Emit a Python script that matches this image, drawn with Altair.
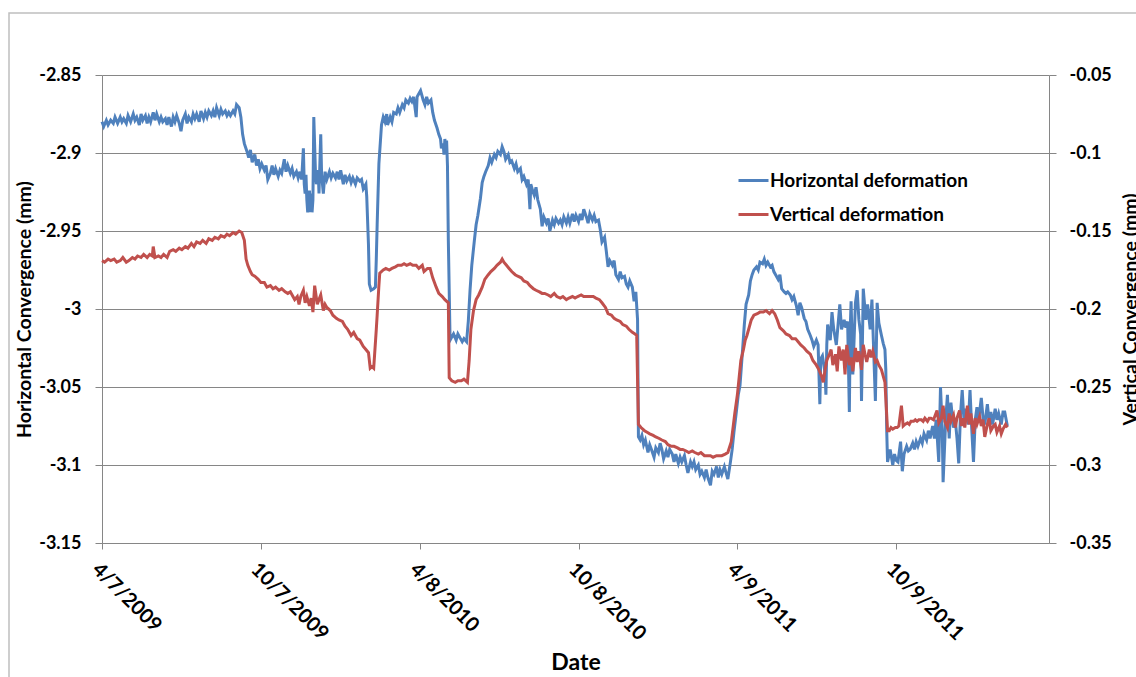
import altair as alt
import pandas as pd

# Time axis: day offsets are counted from START
START = "2009-04-07"
END = "2012-04-02"
TICK_DATES = ["2009-04-07", "2009-10-07", "2010-04-08", "2010-10-08", "2011-04-09", "2011-10-09"]
LEFT_TICKS = [-3.15, -3.1, -3.05, -3.0, -2.95, -2.9, -2.85]
RIGHT_TICKS = [-0.35, -0.3, -0.25, -0.2, -0.15, -0.1, -0.05]
SERIES = ["Horizontal deformation", "Vertical deformation"]
COLORS = ["#4F81BD", "#C0504D"]

# Horizontal deformation (left axis, mm)
H_DAY = [
    0, 2, 5, 7, 10, 13, 15, 18, 21, 23,
    25, 28, 30, 33, 36, 38, 40, 43, 45, 47,
    50, 52, 54, 56, 59, 61, 63, 66, 68, 70,
    73, 75, 77, 80, 82, 84, 86, 89, 91, 93,
    96, 98, 100, 103, 105, 107, 109, 112, 114, 117,
    119, 121, 123, 126, 128, 130, 132, 135, 137, 139,
    142, 144, 146, 148, 151, 153, 155, 158, 160, 162,
    164, 167, 169, 171, 173, 176, 178, 180, 182, 184,
    187, 189, 191, 194, 196, 198, 200, 203, 205, 207,
    210, 212, 214, 217, 219, 221, 224, 226, 228, 230,
    232, 233, 234, 235, 236, 237, 239, 240, 241, 242,
    243, 244, 246, 247, 249, 250, 252, 253, 255, 257,
    259, 262, 264, 266, 269, 271, 273, 275, 278, 280,
    282, 285, 287, 289, 292, 294, 297, 299, 301, 304,
    305, 307, 308, 310, 313, 315, 316, 317, 319, 322,
    324, 326, 328, 329, 332, 334, 336, 339, 341, 343,
    346, 348, 350, 353, 355, 357, 359, 362, 363, 365,
    367, 370, 372, 374, 376, 379, 381, 383, 386, 388,
    390, 391, 393, 394, 395, 396, 397, 398, 399, 401,
    403, 405, 408, 410, 413, 415, 417, 420, 422, 424,
    426, 429, 431, 433, 436, 438, 440, 442, 445, 447,
    449, 452, 454, 456, 459, 461, 463, 465, 468, 470,
    472, 475, 477, 479, 482, 484, 486, 489, 491, 493,
    494, 496, 498, 500, 502, 505, 507, 509, 512, 514,
    516, 519, 521, 523, 526, 528, 530, 532, 535, 537,
    539, 542, 544, 546, 549, 551, 553, 555, 558, 560,
    562, 565, 567, 569, 572, 574, 576, 579, 581, 583,
    585, 588, 590, 592, 595, 597, 599, 602, 604, 606,
    608, 611, 613, 615, 617, 618, 620, 622, 624, 626,
    629, 631, 633, 636, 638, 641, 643, 645, 647, 650,
    652, 654, 657, 659, 661, 664, 666, 668, 671, 673,
    675, 678, 680, 682, 684, 687, 689, 691, 694, 696,
    698, 701, 703, 705, 708, 710, 712, 714, 717, 719,
    721, 724, 726, 728, 731, 733, 735, 738, 740, 742,
    745, 747, 749, 751, 754, 756, 758, 761, 763, 765,
    767, 770, 772, 774, 777, 779, 781, 783, 786, 788,
    790, 793, 795, 797, 800, 802, 804, 806, 809, 811,
    813, 816, 818, 820, 823, 825, 827, 828, 830, 833,
    834, 835, 836, 839, 841, 843, 846, 848, 850, 852,
    855, 857, 859, 861, 862, 863, 865, 868, 870, 872,
    874, 875, 877, 880, 882, 885, 887, 888, 891, 893,
    895, 898, 900, 902, 903, 904, 905, 908, 911, 913,
    915, 917, 920, 922, 924, 927, 929, 931, 934, 936,
    938, 940, 943, 945, 947, 950, 952, 954, 957, 959,
    961, 964, 966, 968, 969, 972, 974, 976, 978, 981,
    983, 985, 987, 989, 991, 993, 995, 998, 1000, 1002,
    1004, 1006, 1008, 1010, 1013, 1015, 1017, 1020, 1022, 1024,
    1026, 1029, 1031, 1033, 1036, 1038, 1040, 1043,
]
H_MM = [
    -2.880, -2.883, -2.879, -2.882, -2.879, -2.881, -2.877, -2.881, -2.877, -2.880,
    -2.878, -2.881, -2.876, -2.880, -2.875, -2.879, -2.877, -2.882, -2.875, -2.879,
    -2.876, -2.881, -2.877, -2.880, -2.874, -2.879, -2.875, -2.880, -2.877, -2.880,
    -2.878, -2.882, -2.877, -2.883, -2.877, -2.880, -2.876, -2.881, -2.886, -2.879,
    -2.875, -2.881, -2.877, -2.880, -2.875, -2.878, -2.875, -2.880, -2.873, -2.878,
    -2.874, -2.877, -2.873, -2.876, -2.873, -2.877, -2.871, -2.876, -2.872, -2.875,
    -2.873, -2.876, -2.874, -2.876, -2.873, -2.875, -2.869, -2.871, -2.877, -2.888,
    -2.894, -2.899, -2.903, -2.898, -2.906, -2.901, -2.908, -2.904, -2.910, -2.907,
    -2.911, -2.908, -2.917, -2.913, -2.908, -2.914, -2.910, -2.915, -2.911, -2.913,
    -2.904, -2.912, -2.908, -2.913, -2.910, -2.915, -2.912, -2.916, -2.912, -2.917,
    -2.897, -2.920, -2.926, -2.914, -2.930, -2.938, -2.924, -2.938, -2.926, -2.938,
    -2.930, -2.877, -2.914, -2.920, -2.911, -2.926, -2.888, -2.914, -2.926, -2.912,
    -2.917, -2.912, -2.916, -2.913, -2.916, -2.912, -2.917, -2.911, -2.920, -2.914,
    -2.918, -2.915, -2.919, -2.916, -2.920, -2.916, -2.918, -2.917, -2.923, -2.920,
    -2.928, -2.959, -2.984, -2.988, -2.987, -2.986, -2.968, -2.946, -2.907, -2.882,
    -2.877, -2.880, -2.875, -2.882, -2.877, -2.880, -2.874, -2.875, -2.871, -2.874,
    -2.869, -2.871, -2.866, -2.868, -2.865, -2.867, -2.864, -2.877, -2.864, -2.862,
    -2.860, -2.866, -2.869, -2.864, -2.868, -2.866, -2.874, -2.879, -2.884, -2.888,
    -2.891, -2.897, -2.894, -2.901, -2.891, -2.899, -2.892, -2.908, -2.956, -3.020,
    -3.018, -3.016, -3.020, -3.016, -3.019, -3.021, -3.019, -3.021, -3.008, -2.988,
    -2.972, -2.956, -2.946, -2.940, -2.929, -2.919, -2.915, -2.912, -2.908, -2.903,
    -2.906, -2.901, -2.903, -2.899, -2.901, -2.896, -2.899, -2.904, -2.901, -2.906,
    -2.905, -2.910, -2.907, -2.912, -2.910, -2.917, -2.915, -2.920, -2.917, -2.936,
    -2.920, -2.924, -2.927, -2.922, -2.930, -2.936, -2.947, -2.941, -2.945, -2.942,
    -2.950, -2.943, -2.946, -2.942, -2.945, -2.943, -2.946, -2.941, -2.945, -2.941,
    -2.945, -2.939, -2.944, -2.940, -2.944, -2.939, -2.943, -2.936, -2.941, -2.945,
    -2.939, -2.943, -2.940, -2.944, -2.943, -2.949, -2.957, -2.954, -2.963, -2.973,
    -2.969, -2.972, -2.969, -2.978, -2.981, -2.976, -2.980, -2.979, -2.984, -2.986,
    -2.982, -2.986, -2.995, -2.989, -3.007, -3.082, -3.084, -3.081, -3.087, -3.084,
    -3.092, -3.087, -3.090, -3.095, -3.089, -3.092, -3.086, -3.090, -3.096, -3.091,
    -3.095, -3.090, -3.093, -3.098, -3.093, -3.099, -3.095, -3.098, -3.094, -3.100,
    -3.105, -3.098, -3.101, -3.098, -3.103, -3.100, -3.106, -3.104, -3.108, -3.103,
    -3.108, -3.113, -3.104, -3.106, -3.101, -3.108, -3.103, -3.106, -3.101, -3.105,
    -3.109, -3.098, -3.090, -3.079, -3.065, -3.055, -3.049, -3.026, -3.010, -2.997,
    -2.991, -2.982, -2.978, -2.975, -2.973, -2.975, -2.970, -2.971, -2.968, -2.972,
    -2.970, -2.973, -2.972, -2.976, -2.979, -2.981, -2.978, -2.987, -2.989, -2.990,
    -2.989, -2.991, -2.994, -2.992, -2.998, -3.004, -2.996, -2.999, -3.006, -3.008,
    -3.013, -3.017, -3.020, -3.024, -3.020, -3.023, -3.061, -3.032, -3.030, -3.041,
    -3.055, -3.023, -3.010, -3.020, -3.002, -3.013, -3.023, -3.010, -2.997, -3.013,
    -3.007, -3.012, -3.008, -3.066, -3.013, -2.995, -3.042, -2.996, -2.988, -3.007,
    -3.016, -3.059, -2.987, -3.007, -2.997, -3.013, -2.994, -3.010, -3.059, -2.996,
    -3.009, -3.017, -3.022, -3.026, -3.039, -3.077, -3.098, -3.090, -3.100, -3.093,
    -3.097, -3.098, -3.085, -3.104, -3.093, -3.088, -3.091, -3.090, -3.086, -3.090,
    -3.085, -3.088, -3.083, -3.086, -3.080, -3.084, -3.078, -3.083, -3.075, -3.083,
    -3.071, -3.098, -3.050, -3.077, -3.111, -3.071, -3.055, -3.083, -3.060, -3.076,
    -3.071, -3.083, -3.099, -3.068, -3.052, -3.071, -3.064, -3.074, -3.052, -3.077,
    -3.098, -3.071, -3.063, -3.071, -3.057, -3.070, -3.074, -3.061, -3.072, -3.066,
    -3.074, -3.064, -3.071, -3.067, -3.074, -3.066, -3.066, -3.075,
]

# Vertical deformation (right axis, mm)
V_DAY = [
    0, 3, 7, 10, 14, 17, 21, 24, 28, 31,
    35, 38, 41, 45, 48, 52, 55, 58, 59, 61,
    65, 68, 71, 75, 78, 82, 85, 89, 92, 96,
    99, 103, 106, 109, 113, 116, 120, 123, 127, 130,
    134, 137, 141, 144, 147, 151, 154, 158, 161, 164,
    166, 168, 171, 173, 176, 180, 183, 187, 190, 194,
    197, 200, 204, 207, 211, 214, 217, 220, 222, 225,
    227, 229, 232, 234, 236, 239, 241, 243, 245, 248,
    250, 252, 255, 257, 259, 263, 266, 270, 273, 277,
    280, 283, 287, 290, 294, 297, 301, 304, 307, 309,
    311, 313, 316, 317, 319, 320, 324, 327, 331, 334,
    338, 341, 345, 348, 351, 355, 358, 362, 365, 369,
    371, 375, 378, 381, 385, 388, 392, 395, 399, 400,
    403, 407, 410, 414, 417, 421, 423, 425, 428, 431,
    434, 438, 441, 445, 448, 452, 455, 459, 461, 463,
    466, 469, 472, 476, 479, 483, 486, 490, 493, 497,
    500, 504, 507, 510, 514, 517, 521, 524, 528, 531,
    535, 538, 542, 545, 548, 552, 555, 559, 562, 566,
    569, 573, 576, 580, 583, 587, 590, 593, 597, 600,
    604, 607, 611, 614, 616, 618, 621, 625, 628, 631,
    635, 638, 642, 645, 649, 652, 656, 659, 663, 666,
    669, 673, 676, 680, 683, 687, 690, 694, 697, 701,
    704, 708, 711, 714, 718, 721, 725, 727, 729, 732,
    734, 736, 739, 741, 743, 746, 748, 751, 755, 758,
    762, 765, 769, 772, 775, 778, 781, 785, 788, 792,
    795, 799, 802, 805, 809, 812, 816, 819, 823, 826,
    829, 831, 833, 835, 838, 840, 842, 845, 847, 849,
    852, 854, 856, 858, 861, 863, 865, 868, 870, 872,
    875, 877, 879, 881, 884, 886, 888, 891, 893, 895,
    898, 900, 902, 905, 907, 909, 911, 914, 916, 918,
    921, 923, 925, 928, 930, 932, 935, 937, 939, 941,
    944, 946, 948, 951, 953, 955, 958, 960, 962, 964,
    967, 969, 971, 974, 976, 978, 981, 983, 985, 988,
    990, 992, 994, 997, 999, 1001, 1004, 1006, 1008, 1011,
    1013, 1015, 1017, 1020, 1022, 1024, 1027, 1029, 1031, 1034,
    1036, 1038, 1041, 1043,
]
V_MM = [
    -0.169, -0.170, -0.168, -0.169, -0.168, -0.170, -0.169, -0.167, -0.170, -0.169,
    -0.167, -0.168, -0.166, -0.167, -0.165, -0.167, -0.165, -0.166, -0.160, -0.167,
    -0.166, -0.167, -0.165, -0.167, -0.163, -0.162, -0.163, -0.161, -0.162, -0.160,
    -0.161, -0.158, -0.160, -0.157, -0.158, -0.156, -0.158, -0.155, -0.156, -0.154,
    -0.155, -0.153, -0.154, -0.152, -0.153, -0.151, -0.152, -0.150, -0.151, -0.156,
    -0.168, -0.172, -0.176, -0.178, -0.179, -0.181, -0.183, -0.183, -0.186, -0.185,
    -0.187, -0.186, -0.188, -0.187, -0.189, -0.190, -0.189, -0.192, -0.194, -0.192,
    -0.197, -0.192, -0.188, -0.196, -0.192, -0.198, -0.193, -0.202, -0.185, -0.197,
    -0.194, -0.191, -0.201, -0.197, -0.199, -0.201, -0.204, -0.206, -0.207, -0.208,
    -0.211, -0.213, -0.217, -0.215, -0.219, -0.220, -0.224, -0.226, -0.228, -0.238,
    -0.237, -0.238, -0.213, -0.204, -0.185, -0.177, -0.175, -0.174, -0.175, -0.174,
    -0.173, -0.172, -0.172, -0.171, -0.172, -0.171, -0.172, -0.172, -0.174, -0.172,
    -0.176, -0.174, -0.174, -0.180, -0.186, -0.190, -0.192, -0.194, -0.196, -0.244,
    -0.246, -0.247, -0.246, -0.246, -0.245, -0.247, -0.233, -0.213, -0.201, -0.194,
    -0.191, -0.186, -0.181, -0.178, -0.176, -0.174, -0.172, -0.170, -0.168, -0.170,
    -0.172, -0.174, -0.176, -0.178, -0.179, -0.180, -0.182, -0.183, -0.185, -0.187,
    -0.188, -0.189, -0.190, -0.190, -0.191, -0.192, -0.190, -0.192, -0.193, -0.192,
    -0.194, -0.193, -0.192, -0.193, -0.192, -0.191, -0.192, -0.192, -0.192, -0.192,
    -0.193, -0.194, -0.196, -0.199, -0.203, -0.204, -0.206, -0.207, -0.208, -0.210,
    -0.211, -0.213, -0.215, -0.216, -0.217, -0.274, -0.276, -0.278, -0.279, -0.280,
    -0.281, -0.282, -0.283, -0.284, -0.285, -0.287, -0.288, -0.288, -0.289, -0.290,
    -0.290, -0.291, -0.292, -0.291, -0.292, -0.293, -0.292, -0.294, -0.294, -0.294,
    -0.295, -0.294, -0.294, -0.294, -0.293, -0.292, -0.285, -0.276, -0.267, -0.255,
    -0.244, -0.233, -0.226, -0.220, -0.217, -0.211, -0.207, -0.204, -0.203, -0.202,
    -0.202, -0.201, -0.203, -0.201, -0.203, -0.207, -0.212, -0.214, -0.216, -0.217,
    -0.219, -0.219, -0.221, -0.223, -0.225, -0.227, -0.229, -0.233, -0.236, -0.239,
    -0.243, -0.247, -0.239, -0.233, -0.229, -0.226, -0.236, -0.229, -0.240, -0.224,
    -0.233, -0.226, -0.242, -0.223, -0.236, -0.231, -0.240, -0.225, -0.234, -0.227,
    -0.239, -0.223, -0.229, -0.234, -0.226, -0.231, -0.227, -0.234, -0.233, -0.236,
    -0.239, -0.243, -0.247, -0.278, -0.278, -0.276, -0.277, -0.276, -0.276, -0.275,
    -0.262, -0.275, -0.274, -0.273, -0.274, -0.272, -0.272, -0.271, -0.272, -0.271,
    -0.271, -0.272, -0.270, -0.272, -0.270, -0.270, -0.271, -0.268, -0.265, -0.273,
    -0.270, -0.262, -0.272, -0.276, -0.267, -0.272, -0.268, -0.276, -0.270, -0.265,
    -0.275, -0.270, -0.276, -0.262, -0.274, -0.267, -0.280, -0.270, -0.274, -0.269,
    -0.275, -0.271, -0.282, -0.274, -0.270, -0.278, -0.275, -0.274, -0.279, -0.275,
    -0.280, -0.277, -0.274, -0.276,
]

assert len(H_DAY) == len(H_MM) and len(V_DAY) == len(V_MM)


def series_frame(days, values, name):
    dates = pd.Timestamp(START) + pd.to_timedelta(days, unit="D")
    return pd.DataFrame({"date": dates.strftime("%Y-%m-%d"), "value": values, "series": name})


def utc_day(text):
    y, m, d = (int(p) for p in text.split("-"))
    return alt.DateTime(year=y, month=m, date=d, utc=True)


horizontal = series_frame(H_DAY, H_MM, SERIES[0])
vertical = series_frame(V_DAY, V_MM, SERIES[1])

GREY = "#868686"
FONT = "Lato"
W, H = 947, 468

x_enc = alt.X(
    "date:T",
    scale=alt.Scale(type="utc", domain=[utc_day(START), utc_day(END)]),
    axis=alt.Axis(
        values=[utc_day(t) for t in TICK_DATES],
        labelExpr="utcFormat(datum.value, '%-m/%-d/%Y')",
        labelAngle=45, labelAlign="left", labelBaseline="top",
        labelFontSize=20, labelPadding=10, tickSize=6, grid=False,
        title="Date", titleFontSize=23, titleX=W / 2, titleY=126,
        titleAlign="center", titleBaseline="alphabetic",
    ),
)

color_enc = alt.Color(
    "series:N",
    scale=alt.Scale(domain=SERIES, range=COLORS),
    legend=alt.Legend(
        title=None, orient="none", legendX=635, legendY=89,
        symbolType="stroke", symbolSize=900, symbolStrokeWidth=3,
        labelFont=FONT, labelFontWeight="bold", labelFontSize=19,
        labelColor="black", labelOffset=0, labelLimit=400,
        rowPadding=7, padding=0,
    ),
)

# chart-area frame
frame = alt.Chart(pd.DataFrame({"k": [0]})).mark_rect(
    fillOpacity=0, stroke="#BFBFBF", strokeWidth=1.5
).encode(
    x=alt.value(-93), x2=alt.value(W + 200),
    y=alt.value(-62), y2=alt.value(H + 300),
)

left = alt.Chart(horizontal).mark_line(strokeWidth=3, interpolate="linear").encode(
    x=x_enc,
    y=alt.Y(
        "value:Q",
        scale=alt.Scale(domain=[-3.15, -2.85], nice=False, zero=False),
        axis=alt.Axis(
            orient="left", values=LEFT_TICKS, labelExpr="toString(datum.value)",
            labelFontSize=18, labelPadding=14, tickSize=7, grid=True,
            title="Horizontal Convergence (mm)", titleFontSize=19.5,
            titleAngle=270, titleX=-87, titleY=H / 2,
            titleAlign="center", titleBaseline="top",
        ),
    ),
    color=color_enc,
)

right = alt.Chart(vertical).mark_line(strokeWidth=3, interpolate="linear").encode(
    x=x_enc,
    y=alt.Y(
        "value:Q",
        scale=alt.Scale(domain=[-0.35, -0.05], nice=False, zero=False),
        axis=alt.Axis(
            orient="right", values=RIGHT_TICKS, labelExpr="toString(datum.value)",
            labelFontSize=18, labelPadding=13, tickSize=7, grid=False,
            title="Vertical Convergence (mm)", titleFontSize=19.5,
            titleAngle=270, titleX=72, titleY=H / 2,
            titleAlign="center", titleBaseline="top",
        ),
    ),
    color=color_enc,
)

chart = (
    alt.layer(frame, left, right)
    .resolve_scale(y="independent")
    .properties(
        width=W, height=H,
        padding={"left": 102, "top": 75, "right": 87, "bottom": 134},
        autosize=alt.AutoSizeParams(type="none"),
        background="white",
    )
    .configure_view(strokeWidth=0)
    .configure_axis(
        domainColor=GREY, tickColor=GREY, gridColor=GREY, gridWidth=1,
        domainWidth=1, tickWidth=1,
        labelFont=FONT, labelFontWeight="bold", labelColor="black",
        titleFont=FONT, titleFontWeight="bold", titleColor="black",
    )
)

chart.save("out.html", embed_options={"renderer": "svg", "actions": False})
